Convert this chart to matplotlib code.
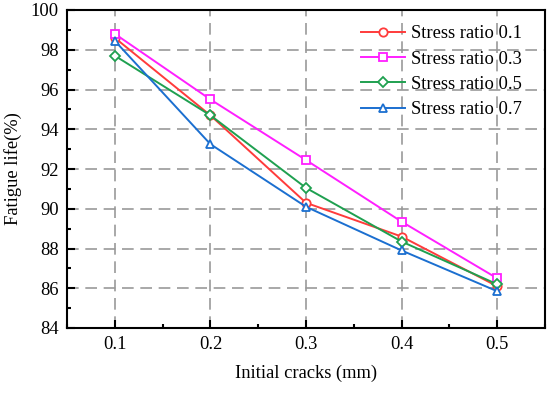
import matplotlib
matplotlib.use("Agg")
import matplotlib.pyplot as plt
from matplotlib.ticker import MultipleLocator

plt.rcParams['font.family'] = ['Liberation Serif', 'DejaVu Serif']

cracks = [0.1, 0.2, 0.3, 0.4, 0.5]
ratio_01 = [98.6, 94.7, 90.3, 88.6, 86.1]
ratio_03 = [98.8, 95.5, 92.45, 89.35, 86.5]
ratio_05 = [97.7, 94.7, 91.05, 88.35, 86.2]
ratio_07 = [98.45, 93.25, 90.1, 87.9, 85.85]

series = [
    ('Stress ratio 0.1', ratio_01, '#FF3B3B', 'o'),
    ('Stress ratio 0.3', ratio_03, '#FF1FFF', 's'),
    ('Stress ratio 0.5', ratio_05, '#1FA050', 'D'),
    ('Stress ratio 0.7', ratio_07, '#1B6FD0', '^'),
]

fs = 13.3

fig = plt.figure(figsize=(5.5, 3.98), dpi=100)
ax = fig.add_axes([67 / 550, 1 - 328 / 398, (545 - 67) / 550, (328 - 10) / 398])

for label, vals, col, mk in series:
    ms = 5 if mk == 'D' else 6
    ax.plot(cracks, vals, color=col, marker=mk, markersize=ms, markerfacecolor='white',
            markeredgecolor=col, markeredgewidth=1.3, linewidth=1.4, label=label)

ax.set_xlim(0.05, 0.55)
ax.set_ylim(84, 100)
ax.xaxis.set_major_locator(MultipleLocator(0.1))
ax.xaxis.set_minor_locator(MultipleLocator(0.05))
ax.yaxis.set_major_locator(MultipleLocator(2))
ax.yaxis.set_minor_locator(MultipleLocator(1))
ax.tick_params(which='both', direction='in', labelsize=fs, width=1.5)
ax.tick_params(which='major', length=6, pad=6)
ax.tick_params(which='minor', length=3)
ax.set_xticks(cracks)
ax.set_xticklabels(['0.1', '0.2', '0.3', '0.4', '0.5'])

for s in ax.spines.values():
    s.set_linewidth(1.5)

# dashed grey grid behind the lines
ax.grid(True, which='major', color='#999999', linestyle=(0, (7, 4)), linewidth=1.2)
ax.set_axisbelow(True)

ax.set_xlabel('Initial cracks (mm)', fontsize=fs, labelpad=8)
ax.set_ylabel('Fatigue life(%)', fontsize=fs, labelpad=6)

ax.legend(loc='upper right', bbox_to_anchor=(0.967, 0.975), frameon=False, fontsize=fs,
          handlelength=2.4, labelspacing=0.45, handletextpad=0.3, borderaxespad=0)

fig.savefig('out.png', dpi=100)
